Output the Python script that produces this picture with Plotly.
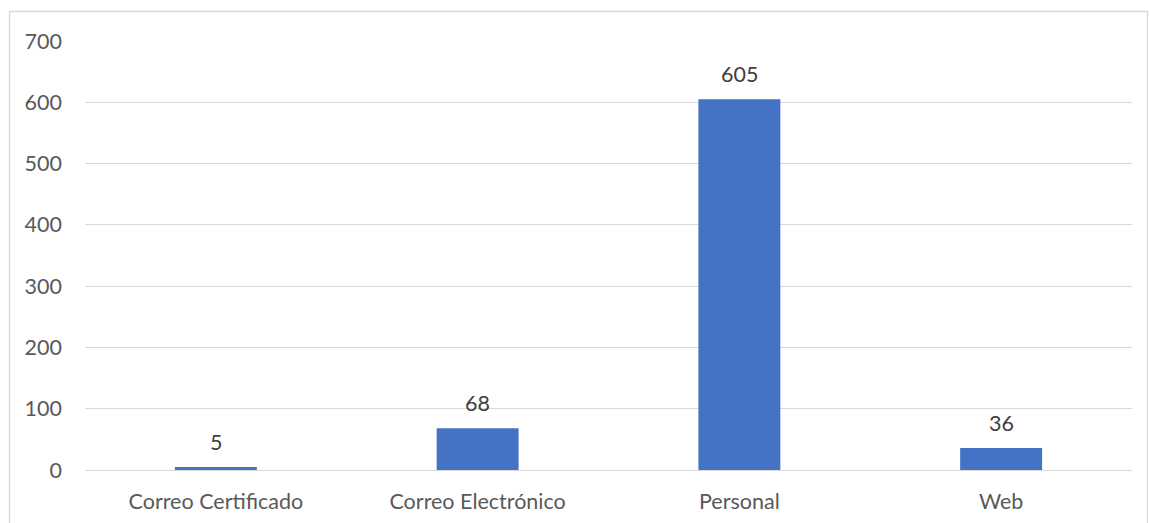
import plotly.graph_objects as go

categories = ["Correo Certificado", "Correo Electrónico", "Personal", "Web"]
values = [5, 68, 605, 36]
y_ticks = [0, 100, 200, 300, 400, 500, 600, 700]

W, H = 1149, 523
L, R, T, B = 85, 17, 41, 53
pw, ph = W - L - R, H - T - B

FONT = "Lato"
FS = 21.5
TXT = "#595959"
GRID = "#d9d9d9"

fig = go.Figure()
fig.add_trace(go.Bar(x=categories, y=values, marker=dict(color="#4472c4", line=dict(width=0)),
                     hoverinfo="x+y"))

for c, v in zip(categories, values):
    fig.add_annotation(x=c, y=v, text=str(v), showarrow=False, yanchor="bottom",
                       yshift=10, font=dict(family=FONT, size=FS, color="#404040"))

# chart frame
fig.add_shape(type="rect", xref="paper", yref="paper",
              x0=(9.5 - L) / pw, x1=(W - 1.5 - L) / pw,
              y0=(H - B - (H + 20)) / ph, y1=(H - B - 11.5) / ph,
              line=dict(color=GRID, width=1.3), fillcolor="rgba(0,0,0,0)", layer="below")

fig.update_layout(
    width=W, height=H,
    margin=dict(l=L, r=R, t=T, b=B, pad=0, autoexpand=False),
    paper_bgcolor="white", plot_bgcolor="white",
    bargap=0.687, showlegend=False,
    font=dict(family=FONT, size=FS, color=TXT),
    xaxis=dict(showgrid=False, showline=True, linecolor=GRID, linewidth=1,
               ticks="outside", ticklen=12, tickcolor="rgba(0,0,0,0)", automargin=False,
               tickfont=dict(family=FONT, size=FS, color=TXT), fixedrange=True),
    yaxis=dict(range=[0, 700], tickvals=y_ticks, showgrid=True, gridcolor=GRID, gridwidth=1,
               zeroline=True, zerolinecolor=GRID, zerolinewidth=1, showline=False,
               ticks="", ticklabelstandoff=22, automargin=False,
               tickfont=dict(family=FONT, size=FS, color=TXT), fixedrange=True),
)

fig.write_html("out.html")
